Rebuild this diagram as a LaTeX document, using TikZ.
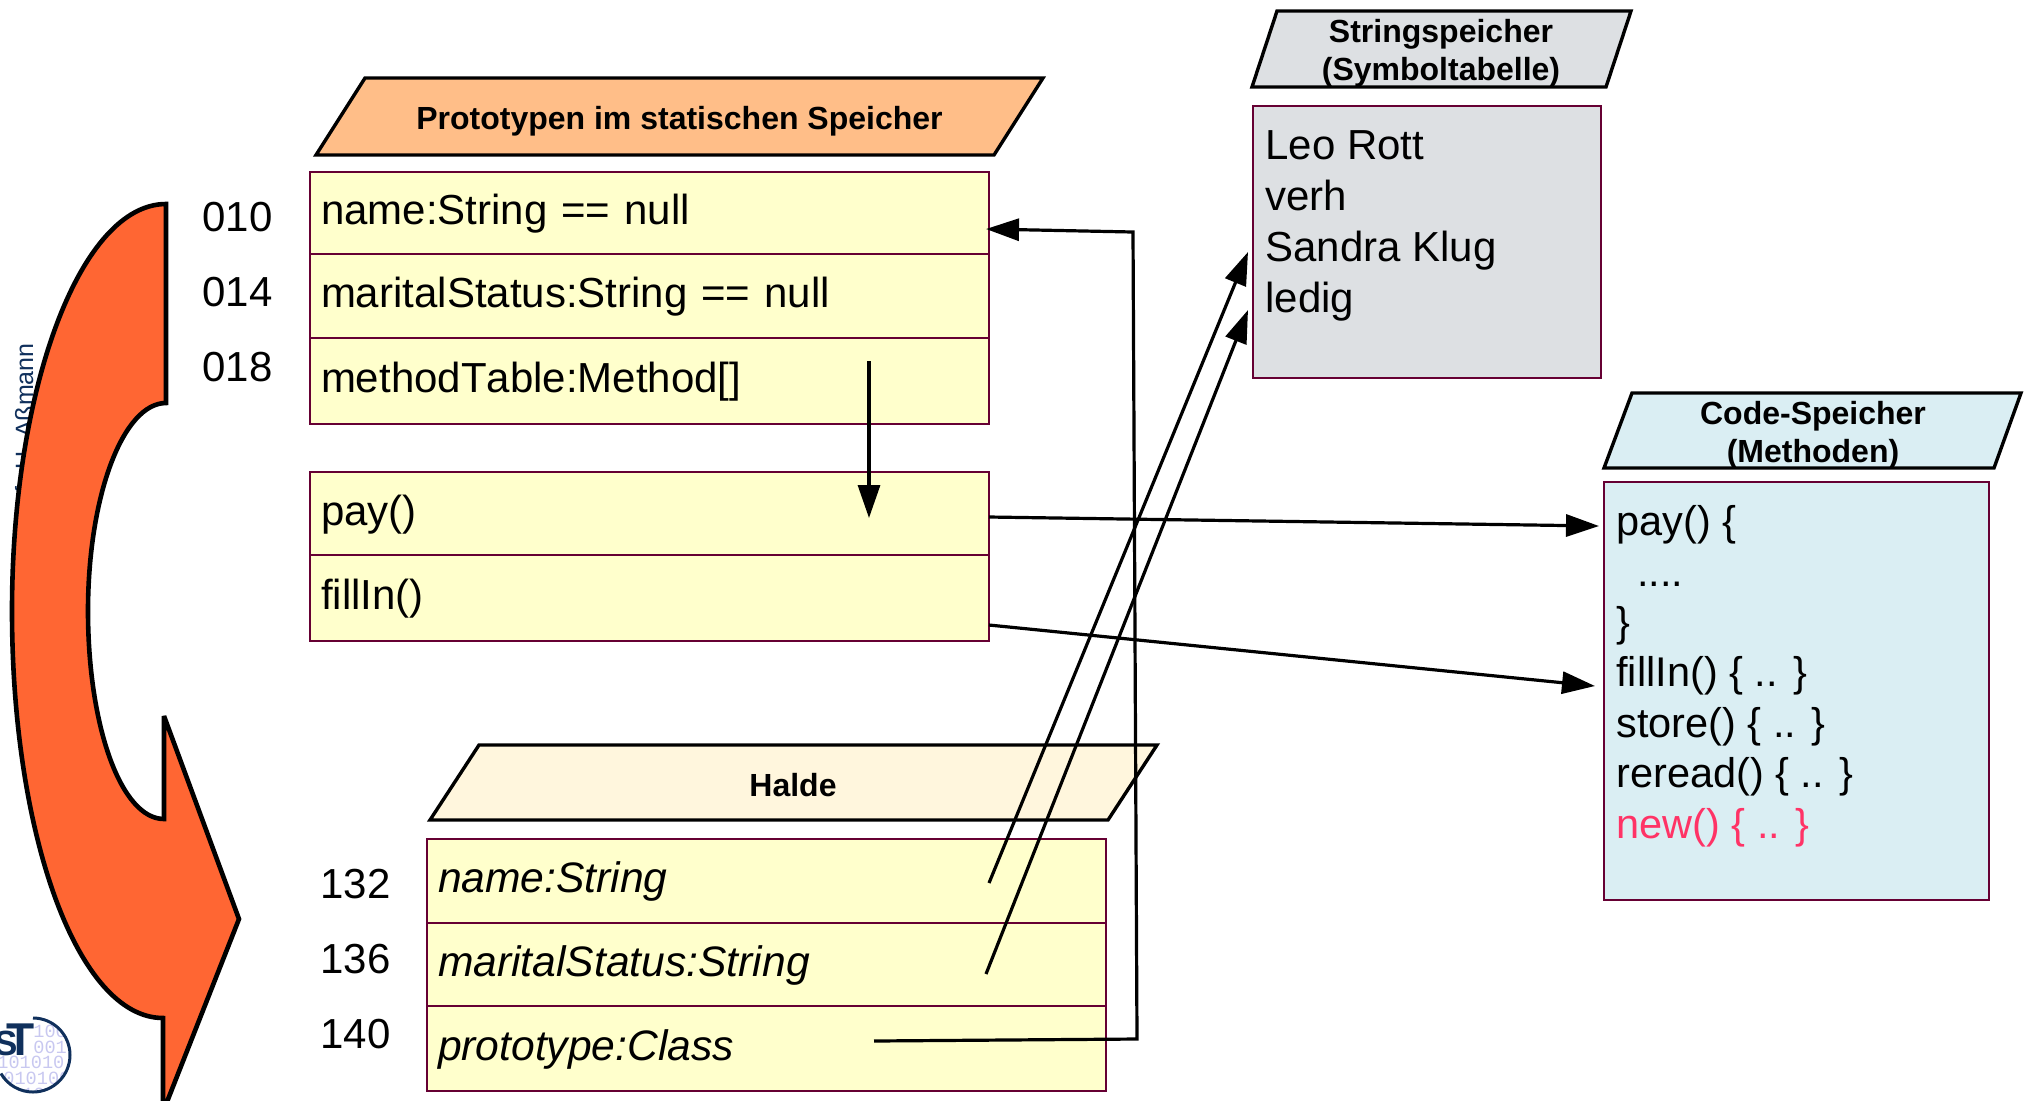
\documentclass[tikz,border=0pt]{standalone}
\usepackage{fontspec}
\setmainfont[Kerning=Off]{Liberation Sans}
\newfontfamily\binfont{Liberation Mono}
\usetikzlibrary{arrows.meta}
\definecolor{maroon}{HTML}{660033}
\definecolor{cellfill}{HTML}{FFFFCC}
\definecolor{protofill}{HTML}{FFBE88}
\definecolor{stringfill}{HTML}{DDE0E3}
\definecolor{codefill}{HTML}{DAEEF3}
\definecolor{haldefill}{HTML}{FFF6DD}
\definecolor{bigarrow}{HTML}{FF6633}
\definecolor{newred}{HTML}{FF3366}
\definecolor{navy}{HTML}{10305C}
\definecolor{binlav}{HTML}{C8C8F0}
\tikzset{
  body/.style={font=\fontsize{21}{25.4}\selectfont},
  cellbox/.style={draw=maroon,line width=1.35pt,fill=cellfill,anchor=north west,outer sep=0pt,
    inner xsep=5.5pt,inner ysep=0pt,text width=328.5pt,align=left,
    text height=15pt,text depth=3.5pt,body},
  hcell/.style={cellbox,font=\fontsize{21.3}{25.4}\selectfont\itshape},
  header/.style={draw=black,line width=1.7pt,line join=miter},
  headtext/.style={font=\fontsize{16}{19}\bfseries\selectfont,anchor=base,align=center},
  addr/.style={body,anchor=base west,inner sep=0pt},
  memtext/.style={body,anchor=base west,inner sep=0pt,align=left},
  conn/.style={draw=black,line width=1.6pt,-{Triangle[length=16.5pt,width=11pt]}},
  binline/.style={font=\binfont\fontsize{9.3}{9.3}\selectfont,text=binlav,anchor=base west,inner sep=0pt},
}
\begin{document}
\begin{tikzpicture}[x=.5pt,y=-.5pt]
\useasboundingbox (0,0) rectangle (2024,1100);

% copyright text behind the big arrow
\node[rotate=90,anchor=base east,inner sep=0pt,text=navy,font=\fontsize{12.5}{15}\selectfont] (copy) at (33,343) {Prof. U. Aßmann};

% big arrow
\filldraw[fill=bigarrow,draw=black,line width=2.3pt,line join=miter,miter limit=2.5]
  (166,204) -- (166,403)
  .. controls (123,403) and (88,496) .. (88,611)
  .. controls (88,726) and (121,819) .. (164,819)
  -- (164,716) -- (239,919) -- (163,1112) -- (163,1018)
  .. controls (78,1018) and (12,836) .. (12,611)
  .. controls (12,386) and (81,204) .. (166,204) -- cycle;

% logo
\begin{scope}
  \clip (33,1055) circle (37);
  \node[binline] (b1) at (33,1037) {100};
  \node[binline] (b2) at (33,1053) {001};
  \node[binline] (b3) at (-3,1068) {101010};
  \node[binline] (b4) at (3,1084) {010100};
  \node[binline] (b5) at (22,1100) {101};
\end{scope}
\draw[navy,line width=1.5pt] (33,1018) arc[start angle=-90,end angle=150,radius=37];
\node[inner sep=0pt,anchor=base east,text=navy,font=\fontsize{17.5}{20}\bfseries\selectfont] (logoS) at (18,1055) {S};
\node[inner sep=0pt,anchor=base west,text=navy,font=\fontsize{23}{26}\bfseries\selectfont] (logoT) at (6,1055) {T};

% address labels
\node[addr] (a010) at (202,231) {010};
\node[addr] (a014) at (202,306) {014};
\node[addr] (a018) at (202,381) {018};
\node[addr] (a132) at (320,898) {132};
\node[addr] (a136) at (320,973) {136};
\node[addr] (a140) at (320,1048) {140};

% header parallelograms
\draw[header,fill=protofill] (316,155) -- (365,78) -- (1043,78) -- (994,155) -- cycle;
\node[headtext] (hproto) at (679.5,129) {Prototypen im statischen Speicher};
\draw[header,fill=haldefill] (430,820) -- (479,745) -- (1157,745) -- (1108,820) -- cycle;
\node[headtext] (hhalde) at (793,796) {Halde};
\draw[header,fill=stringfill] (1252,87) -- (1277,11) -- (1631,11) -- (1606,87) -- cycle;
\node[headtext] (hstr1) at (1441,42) {Stringspeicher};
\node[headtext] (hstr2) at (1441,80) {(Symboltabelle)};
\draw[header,fill=codefill] (1604,468) -- (1632,393) -- (2021,393) -- (1994,468) -- cycle;
\node[headtext] (hcode1) at (1813,424) {Code-Speicher};
\node[headtext] (hcode2) at (1813,462) {(Methoden)};

% prototype cells
\node[cellbox,minimum height=41pt] (pname) at (310,172) {name:String == null};
\node[cellbox,minimum height=42pt] (pstatus) at (310,254) {maritalStatus:String == null};
\node[cellbox,minimum height=43pt] (ptable) at (310,338) {methodTable:Method[]};
\node[cellbox,minimum height=41.5pt] (mpay) at (310,472) {pay()};
\node[cellbox,minimum height=43pt] (mfill) at (310,555) {fillIn()};

% heap cells
\node[hcell,minimum height=42pt] (hname) at (427,839) {name:String};
\node[hcell,minimum height=41.5pt] (hstatus) at (427,923) {maritalStatus:String};
\node[hcell,minimum height=42.5pt] (hproto2) at (427,1006) {prototype:Class};

% memory boxes
\node[draw=maroon,line width=1.35pt,fill=stringfill,anchor=north west,outer sep=0pt,minimum width=174pt,minimum height=136pt,inner sep=0pt] (strbox) at (1253,106) {};
\node[memtext] (strtext) at (1265,312) {Leo Rott\\verh\\Sandra Klug\\ledig};
\node[draw=maroon,line width=1.35pt,fill=codefill,anchor=north west,outer sep=0pt,minimum width=192.5pt,minimum height=209pt,inner sep=0pt] (codebox) at (1604,482) {};
\node[memtext,font=\fontsize{20.75}{25.2}\selectfont] (codetext) at (1616,838) {pay() \{\\\hspace{.5em}....\\\}\\fillIn() \{ .. \}\\store() \{ .. \}\\reread() \{ .. \}\\\textcolor{newred}{new() \{ .. \}}};

% connector ends
\coordinate (tableStart) at (869,361);
\coordinate (tableEnd) at (869,518);
\coordinate (protoStart) at (874,1041);
\coordinate (protoB1) at (1137,1039);
\coordinate (protoB2) at (1133,232);
\coordinate (protoEnd) at (986,229);
\coordinate (nameStart) at (989,883);
\coordinate (nameEnd) at (1248,252);
\coordinate (statusStart) at (986,974);
\coordinate (statusEnd) at (1248,310);
\coordinate (payStart) at (989,517);
\coordinate (payEnd) at (1599,526);
\coordinate (fillStart) at (989,625);
\coordinate (fillEnd) at (1595,686);

% connectors
\draw[conn] (tableStart) -- (tableEnd);
\draw[conn] (protoStart) -- (protoB1) -- (protoB2) -- (protoEnd);
\draw[conn] (nameStart) -- (nameEnd);
\draw[conn] (statusStart) -- (statusEnd);
\draw[conn] (payStart) -- (payEnd);
\draw[conn] (fillStart) -- (fillEnd);
\end{tikzpicture}
\end{document}
